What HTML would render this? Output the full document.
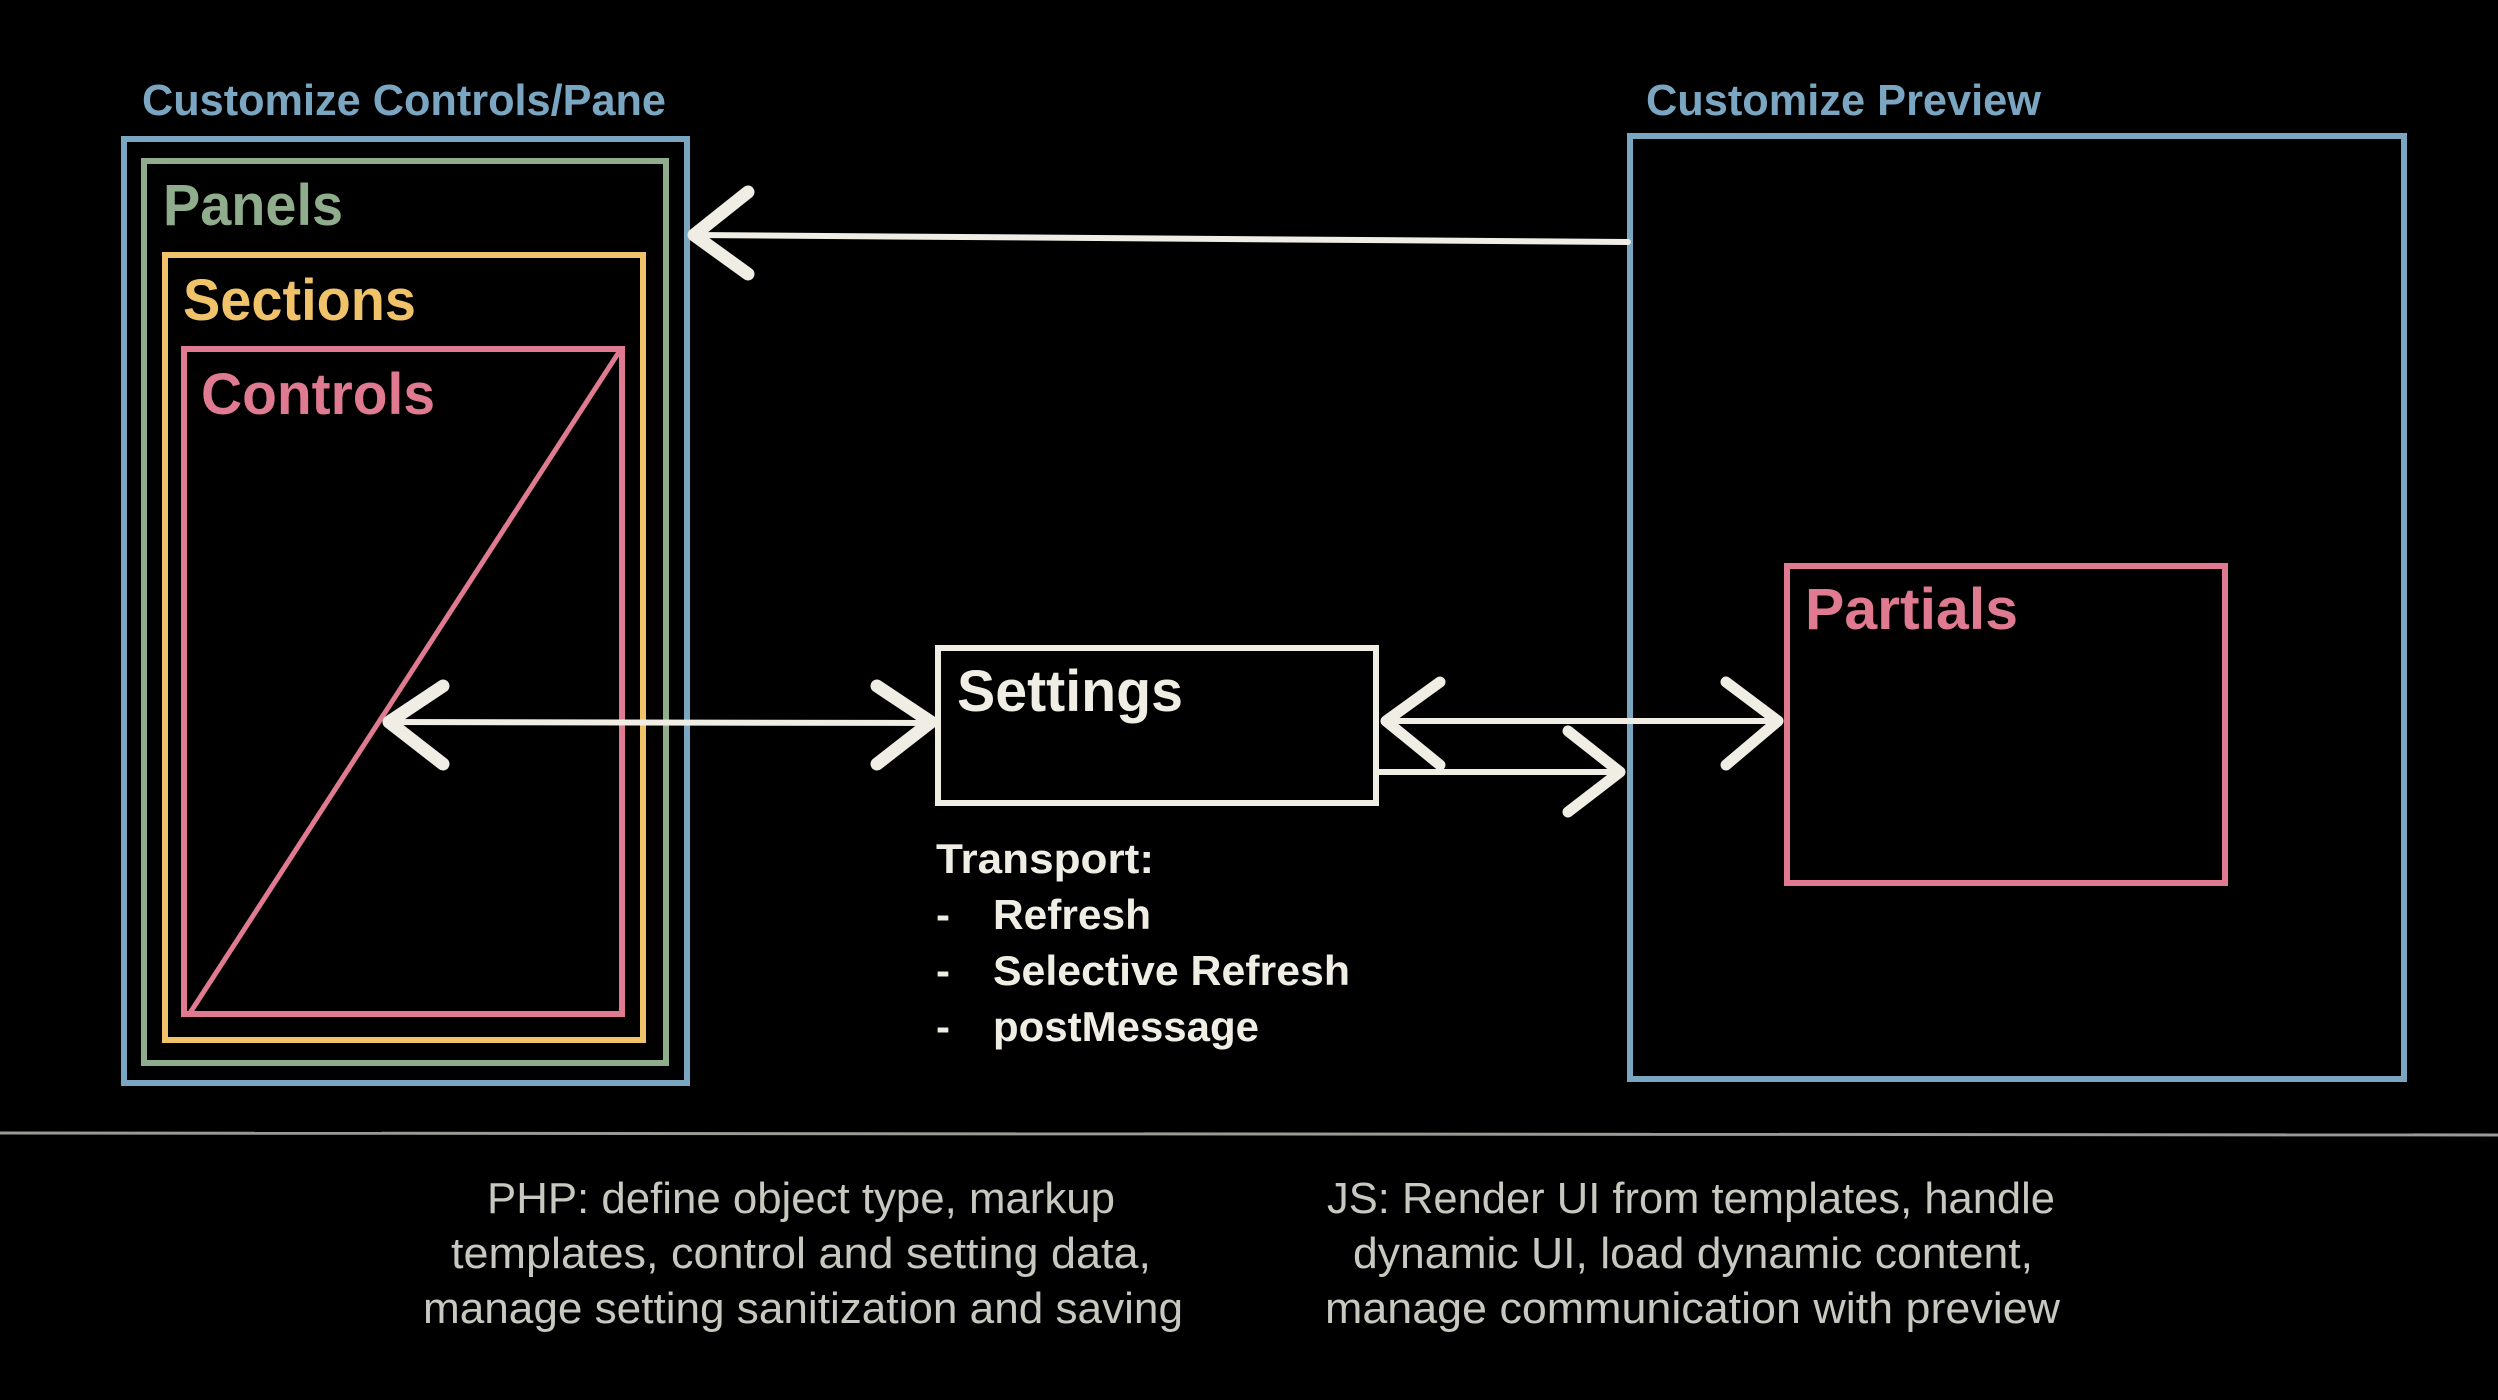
<!DOCTYPE html>
<html><head><meta charset="utf-8"><style>
html,body{margin:0;padding:0;background:#000;width:2498px;height:1400px;overflow:hidden}
svg{display:block}
text{font-family:"Liberation Sans",sans-serif}
.b text, text.b{font-weight:bold}
.n text{font-weight:normal}
</style></head><body>
<svg width="2498" height="1400" viewBox="0 0 2498 1400" xmlns="http://www.w3.org/2000/svg">
<rect width="2498" height="1400" fill="#000"/>
<g class="b">
<rect x="124" y="139" width="563" height="944" fill="none" stroke="#7aa6c2" stroke-width="6"/>
<rect x="144" y="161" width="522" height="902" fill="none" stroke="#8fac8c" stroke-width="6"/>
<rect x="165" y="255" width="478" height="785" fill="none" stroke="#f0c36a" stroke-width="6"/>
<rect x="184" y="349" width="438" height="665" fill="none" stroke="#e07a90" stroke-width="6"/>
<line x1="188" y1="1016" x2="619" y2="352" stroke="#e07a90" stroke-width="5"/>
<text x="142" y="115" font-size="44" fill="#7aa6c2" textLength="524" lengthAdjust="spacingAndGlyphs">Customize Controls/Pane</text>
<text x="163" y="225" font-size="58" fill="#8fac8c" textLength="180" lengthAdjust="spacingAndGlyphs">Panels</text>
<text x="183" y="320" font-size="58" fill="#f0c36a" textLength="233" lengthAdjust="spacingAndGlyphs">Sections</text>
<text x="201" y="414" font-size="58" fill="#e07a90" textLength="234" lengthAdjust="spacingAndGlyphs">Controls</text>
<rect x="1630" y="136" width="774" height="943" fill="none" stroke="#7aa6c2" stroke-width="6"/>
<text x="1646" y="115" font-size="44" fill="#7aa6c2" textLength="395" lengthAdjust="spacingAndGlyphs">Customize Preview</text>
<rect x="1787" y="566" width="438" height="317" fill="none" stroke="#e07a90" stroke-width="6"/>
<text x="1805" y="629" font-size="58" fill="#e07a90" textLength="213" lengthAdjust="spacingAndGlyphs">Partials</text>
<rect x="938" y="648" width="438" height="155" fill="none" stroke="#f0eee4" stroke-width="6"/>
<text x="957" y="711" font-size="58" fill="#f0eee4" textLength="226" lengthAdjust="spacingAndGlyphs">Settings</text>
<g fill="#f0eee4" font-size="42">
<text x="936" y="873" textLength="218" lengthAdjust="spacingAndGlyphs">Transport:</text>
<text x="936" y="929">-</text><text x="993" y="929" textLength="158" lengthAdjust="spacingAndGlyphs">Refresh</text>
<text x="936" y="985">-</text><text x="993" y="985" textLength="357" lengthAdjust="spacingAndGlyphs">Selective Refresh</text>
<text x="936" y="1041">-</text><text x="993" y="1041" textLength="266" lengthAdjust="spacingAndGlyphs">postMessage</text>
</g>
</g>
<g stroke="#f0eee4" fill="none" stroke-linecap="round" stroke-linejoin="round">
<line x1="695" y1="235" x2="1628" y2="242" stroke-width="6"/>
<polyline points="748,192 694,235 748,274" stroke-width="13"/>
<line x1="390" y1="722" x2="930" y2="723" stroke-width="6"/>
<polyline points="443,686 389,722 443,764" stroke-width="13"/>
<polyline points="877,686 931,722 877,764" stroke-width="13"/>
<line x1="1386" y1="721" x2="1776" y2="721" stroke-width="6"/>
<polyline points="1440,682 1386,721 1440,765" stroke-width="11"/>
<polyline points="1726,682 1778,721 1726,765" stroke-width="11"/>
<line x1="1378" y1="772" x2="1618" y2="772" stroke-width="6"/>
<polyline points="1568,731 1620,772 1568,812" stroke-width="11"/>
</g>
<line x1="0" y1="1133" x2="2498" y2="1135" stroke="#9a9a96" stroke-width="3"/>
<g class="n" fill="#c8c8c0" font-size="44">
<text x="487" y="1213" textLength="628" lengthAdjust="spacingAndGlyphs">PHP: define object type, markup</text>
<text x="451" y="1268" textLength="700" lengthAdjust="spacingAndGlyphs">templates, control and setting data,</text>
<text x="423" y="1323" textLength="760" lengthAdjust="spacingAndGlyphs">manage setting sanitization and saving</text>
<text x="1327" y="1213" textLength="728" lengthAdjust="spacingAndGlyphs">JS: Render UI from templates, handle</text>
<text x="1353" y="1268" textLength="680" lengthAdjust="spacingAndGlyphs">dynamic UI, load dynamic content,</text>
<text x="1325" y="1323" textLength="735" lengthAdjust="spacingAndGlyphs">manage communication with preview</text>
</g>
</svg>
</body></html>
